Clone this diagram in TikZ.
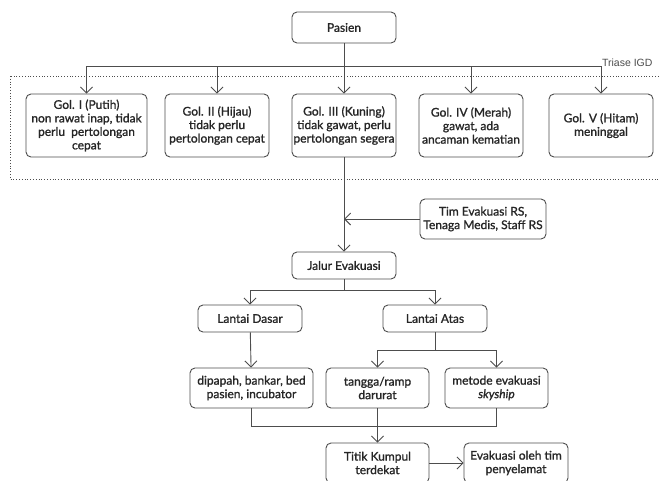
\documentclass[tikz,border=0pt]{standalone}
\usepackage{fontspec}
\setmainfont{Lato}
\newfontfamily\boxfont{Lato}[FakeBold=1.3]
\newfontfamily\labelfont{Liberation Sans}
\usetikzlibrary{arrows.meta}
\definecolor{linegray}{HTML}{4d4d4d}
\tikzset{
  box/.style={draw=linegray, line width=0.9pt, rounded corners=5pt, align=center,
    inner sep=1pt, font=\boxfont\fontsize{12}{13.5}\selectfont, text=black!85},
  arr/.style={draw=linegray, line width=0.9pt, -{Straight Barb[length=6pt,width=12pt]}},
  ln/.style={draw=linegray, line width=0.9pt}
}
\begin{document}
\begin{tikzpicture}[x=1pt,y=-1pt]
\useasboundingbox (0,0) rectangle (660,480);
\clip (0,0) rectangle (660,480);

% triase area
\draw[linegray, line width=0.8pt, dotted] (10,76) rectangle (668,179);
\node[font=\labelfont\fontsize{10.5}{12}\selectfont, text=black!70, anchor=east] (triase) at (656,63) {Triase IGD};

\node[box, minimum width=104, minimum height=31] (pasien) at (344,27.5) {Pasien};

\node[box, minimum width=121, minimum height=63] (g1) at (86.5,125.5) {Gol. I (Putih)\\non rawat inap, tidak\\perlu\ \ pertolongan\\cepat};
\node[box, minimum width=104, minimum height=63] (g2) at (217,125.5) {Gol. II (Hijau)\\tidak perlu\\pertolongan cepat};
\node[box, minimum width=104, minimum height=63] (g3) at (344,125.5) {Gol. III (Kuning)\\tidak gawat, perlu\\pertolongan segera};
\node[box, minimum width=104, minimum height=63] (g4) at (471,125.5) {Gol. IV (Merah)\\gawat, ada\\ancaman kematian};
\node[box, minimum width=104, minimum height=63] (g5) at (601,125.5) {Gol. V (Hitam)\\meninggal};

\node[box, minimum width=126, minimum height=40] (tim) at (483,219) {Tim Evakuasi RS,\\Tenaga Medis, Staff RS};
\node[box, minimum width=104, minimum height=27] (jalur) at (344,265.5) {Jalur Evakuasi};

\node[box, minimum width=104, minimum height=27] (dasar) at (250,318.5) {Lantai Dasar};
\node[box, minimum width=104, minimum height=27] (atas) at (435,318.5) {Lantai Atas};

\node[box, minimum width=123, minimum height=40] (dipapah) at (251.5,388) {dipapah, bankar, bed\\pasien, incubator};
\node[box, minimum width=103, minimum height=40] (tangga) at (377.5,388) {tangga/ramp\\darurat};
\node[box, minimum width=103, minimum height=40] (metode) at (496.5,388) {metode evakuasi\\\textit{skyship}};

\node[box, minimum width=103, minimum height=40] (titik) at (377.5,463) {Titik Kumpul\\terdekat};
\node[box, minimum width=104, minimum height=40] (evak) at (516,463) {Evakuasi oleh tim\\penyelamat};

\coordinate (bus) at (344,66);
\coordinate (split1) at (344,290);
\coordinate (split2) at (435,350);
\coordinate (merge) at (377.5,426);

\draw[arr] (pasien) -- (g3);
\draw[ln] (pasien.south) -- (bus);
\draw[arr] (bus) -| (g1);
\draw[arr] (bus) -| (g2);
\draw[arr] (bus) -| (g4);
\draw[arr] (bus) -| (g5);

\draw[arr] (g3) -- (jalur);
\draw[arr] (tim.west) -- (tim.west -| g3);

\draw[ln] (jalur) -- (split1);
\draw[arr] (split1) -| (dasar);
\draw[arr] (split1) -| (atas);

\draw[arr] (dasar) -- (dipapah);
\draw[ln] (atas) -- (split2);
\draw[arr] (split2) -| (tangga);
\draw[arr] (split2) -| (metode);

\draw[ln] (dipapah) |- (merge);
\draw[ln] (metode) |- (merge);
\draw[arr] (tangga) -- (titik);

\draw[arr] (titik) -- (evak);
\end{tikzpicture}
\end{document}
